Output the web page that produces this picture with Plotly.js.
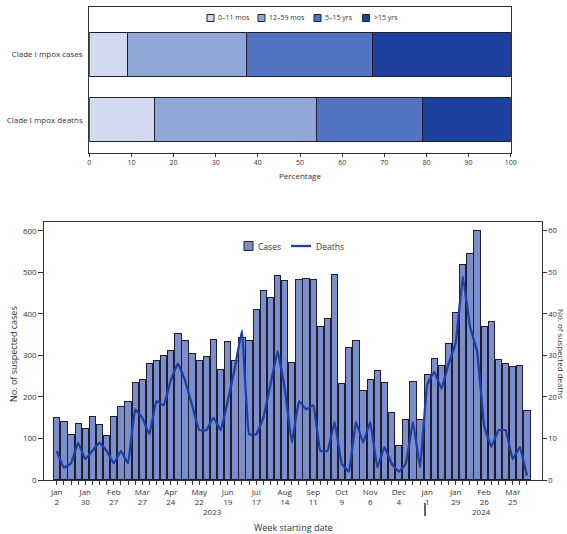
<!DOCTYPE html>
<html>
<head>
<meta charset="utf-8">
<script src="https://cdn.plot.ly/plotly-3.0.1.min.js"></script>
<style>html,body{margin:0;padding:0;background:#fff;}#chart{width:567px;height:534px;}</style>
</head>
<body>
<div id="chart"></div>
<script>
// ---- Top chart data ----
const groupLabels = ["Clade I mpox deaths", "Clade I mpox cases"];
const ageGroups = ["0–11 mos", "12–59 mos", "5–15 yrs", ">15 yrs"];
const pctCases = [9.0, 28.3, 30.0, 32.7];
const pctDeaths = [15.5, 38.5, 25.1, 20.9];
const ageColors = ["#d1daef", "#90a7d8", "#5274c0", "#1b409f"];

// ---- Bottom chart data ----
const weekStart = [
 "2023-01-02","2023-01-09","2023-01-16","2023-01-23","2023-01-30","2023-02-06","2023-02-13","2023-02-20",
 "2023-02-27","2023-03-06","2023-03-13","2023-03-20","2023-03-27","2023-04-03","2023-04-10","2023-04-17",
 "2023-04-24","2023-05-01","2023-05-08","2023-05-15","2023-05-22","2023-05-29","2023-06-05","2023-06-12",
 "2023-06-19","2023-06-26","2023-07-03","2023-07-10","2023-07-17","2023-07-24","2023-07-31","2023-08-07",
 "2023-08-14","2023-08-21","2023-08-28","2023-09-04","2023-09-11","2023-09-18","2023-09-25","2023-10-02",
 "2023-10-09","2023-10-16","2023-10-23","2023-10-30","2023-11-06","2023-11-13","2023-11-20","2023-11-27",
 "2023-12-04","2023-12-11","2023-12-18","2023-12-25","2024-01-01","2024-01-08","2024-01-15","2024-01-22",
 "2024-01-29","2024-02-05","2024-02-12","2024-02-19","2024-02-26","2024-03-04","2024-03-11","2024-03-18",
 "2024-03-25","2024-04-01","2024-04-08"];
const cases = [151,141,110,137,123,152,134,106,153,177,190,235,242,280,287,301,
 311,352,337,304,288,297,338,267,333,288,343,337,410,457,440,492,
 480,283,482,486,482,370,390,496,233,320,337,215,243,263,236,163,
 84,145,237,145,253,293,275,328,404,520,545,602,369,381,291,280,
 273,276,167];
const deaths = [7,3,4,9,5,7,9,7,4,7,4,17,15,11,19,18,
 24,28,24,18,12,12,15,12,19,27,36,11,11,15,23,31,
 22,9,19,17,18,7,7,14,4,2,14,9,14,3,8,4,
 2,4,14,3,23,26,22,28,33,49,37,31,13,8,12,12,
 5,8,1];
const tickLabels = ["Jan<br>2","Jan<br>30","Feb<br>27","Mar<br>27","Apr<br>24","May<br>22","Jun<br>19",
 "Jul<br>17","Aug<br>14","Sep<br>11","Oct<br>9","Nov<br>6","Dec<br>4","Jan<br>1","Jan<br>29","Feb<br>26","Mar<br>25"];
const seriesNames = ["Cases", "Deaths"];

const W = 567, H = 534;
const px = v => v / W;
const py = v => 1 - v / H;
const txt = "#333";
const FONT = "Open Sans, Noto Sans, sans-serif";
const outline = "#1e1e2e";
const barBlue = "#7b8ecb";
const lineBlue = "#1d3fa8";

const traces = [];
ageGroups.forEach((g, i) => {
  traces.push({
    type: "bar", orientation: "h", name: g,
    y: groupLabels, x: [pctDeaths[i], pctCases[i]],
    xaxis: "x", yaxis: "y",
    marker: {color: ageColors[i], line: {color: outline, width: 1}},
    hoverinfo: "x+name"
  });
});

traces.push({
  type: "bar", name: seriesNames[0], x: weekStart, y: cases,
  xaxis: "x2", yaxis: "y2", width: 0.88,
  marker: {color: barBlue, line: {color: outline, width: 1}}
});
traces.push({
  type: "scatter", mode: "lines", name: seriesNames[1], x: weekStart, y: deaths,
  xaxis: "x2", yaxis: "y3",
  line: {color: lineBlue, width: 2.3, shape: "spline", smoothing: 0.25}
});

const ticktext = weekStart.map((d, i) => (i % 4 === 0 ? tickLabels[i / 4] : ""));

// Manual legends (small boxes with text right beside, as in the reference)
const shapes = [];
const annotations = [];
const legBoxX = [207, 258, 314, 362.6];
ageGroups.forEach((g, i) => {
  shapes.push({type: "rect", xref: "paper", yref: "paper",
    x0: px(legBoxX[i]), x1: px(legBoxX[i] + 7), y0: py(21.5), y1: py(14.5),
    fillcolor: ageColors[i], line: {color: outline, width: 1}});
  annotations.push({text: g, xref: "paper", yref: "paper", x: px(legBoxX[i] + 9), y: py(18),
    xanchor: "left", yanchor: "middle", showarrow: false, font: {size: 7, color: txt}});
});
// bottom legend
shapes.push({type: "rect", xref: "paper", yref: "paper",
  x0: px(244), x1: px(253), y0: py(250.5), y1: py(241.5),
  fillcolor: barBlue, line: {color: outline, width: 1}});
annotations.push({text: seriesNames[0], xref: "paper", yref: "paper", x: px(256), y: py(246),
  xanchor: "left", yanchor: "middle", showarrow: false, font: {size: 8.5, color: txt}});
shapes.push({type: "line", xref: "paper", yref: "paper",
  x0: px(291), x1: px(311), y0: py(246), y1: py(246),
  line: {color: lineBlue, width: 2.3}});
annotations.push({text: seriesNames[1], xref: "paper", yref: "paper", x: px(314), y: py(246),
  xanchor: "left", yanchor: "middle", showarrow: false, font: {size: 8.5, color: txt}});

annotations.push(
  {text: "Percentage", xref: "paper", yref: "paper", x: px(300), y: py(175),
   showarrow: false, font: {size: 8, color: txt}, xanchor: "center", yanchor: "middle"},
  {text: "No. of suspected cases", xref: "paper", yref: "paper", x: px(13), y: py(354),
   textangle: -90, showarrow: false, font: {size: 9, color: txt}, xanchor: "center", yanchor: "middle"},
  {text: "No. of suspected deaths", xref: "paper", yref: "paper", x: px(562), y: py(354),
   textangle: 90, showarrow: false, font: {size: 8, color: txt}, xanchor: "center", yanchor: "middle"},
  {text: "2023", xref: "paper", yref: "paper", x: px(212.7), y: py(511),
   showarrow: false, font: {size: 8, color: txt}, xanchor: "center", yanchor: "middle"},
  {text: "2024", xref: "paper", yref: "paper", x: px(481.7), y: py(511),
   showarrow: false, font: {size: 8, color: txt}, xanchor: "center", yanchor: "middle"},
  {text: "Week starting date", xref: "paper", yref: "paper", x: px(293), y: py(527),
   showarrow: false, font: {size: 9, color: txt}, xanchor: "center", yanchor: "middle"}
);
shapes.push({type: "line", xref: "paper", yref: "paper", x0: px(425), x1: px(425), y0: py(516), y1: py(503),
  line: {color: "#333", width: 1.5}});

const layout = {
  width: W, height: H,
  margin: {l: 0, r: 0, t: 0, b: 0},
  paper_bgcolor: "#fff", plot_bgcolor: "#fff",
  font: {family: FONT, size: 8, color: txt},
  barmode: "stack",
  bargap: 0.33,
  showlegend: false,
  xaxis: {
    domain: [px(89.3), px(510.7)], anchor: "y",
    range: [0, 100], dtick: 10, tick0: 0,
    showgrid: false, zeroline: false,
    showline: true, linecolor: "#333", linewidth: 1, mirror: true,
    ticks: "outside", ticklen: 3, tickcolor: "#333",
    tickfont: {size: 7, color: txt}, automargin: false
  },
  yaxis: {
    domain: [py(152.7), py(6.7)], anchor: "x",
    type: "category", range: [-0.5, 1.72],
    showgrid: false, zeroline: false,
    showline: true, linecolor: "#333", linewidth: 1, mirror: true,
    ticks: "", tickfont: {size: 8, color: txt}, ticklabelstandoff: 4, automargin: false
  },
  xaxis2: {
    domain: [px(44.3), px(541.7)], anchor: "y2",
    type: "category", range: [-1.75, 68.07],
    tickmode: "array", tickvals: weekStart, ticktext: ticktext,
    showgrid: false, zeroline: false,
    showline: true, linecolor: "#333", linewidth: 1, mirror: true,
    ticks: "outside", ticklen: 4, tickcolor: "#333", tickangle: 0,
    tickfont: {size: 8, color: txt}, automargin: false
  },
  yaxis2: {
    domain: [py(480), py(221.7)], anchor: "x2",
    range: [0, 622], tickvals: [0,100,200,300,400,500,600],
    showgrid: false, zeroline: false,
    showline: true, linecolor: "#333", linewidth: 1,
    ticks: "outside", ticklen: 5, tickcolor: "#333",
    tickfont: {size: 8, color: txt}, automargin: false
  },
  yaxis3: {
    overlaying: "y2", side: "right", anchor: "x2",
    range: [0, 62.2], tickvals: [0,10,20,30,40,50,60],
    showgrid: false, zeroline: false,
    showline: true, linecolor: "#333", linewidth: 1,
    ticks: "outside", ticklen: 4, tickcolor: "#333",
    tickfont: {size: 7.5, color: txt}, automargin: false
  },
  annotations: annotations,
  shapes: shapes
};

Plotly.newPlot("chart", traces, layout, {displayModeBar: false, staticPlot: true});
</script>
</body>
</html>
